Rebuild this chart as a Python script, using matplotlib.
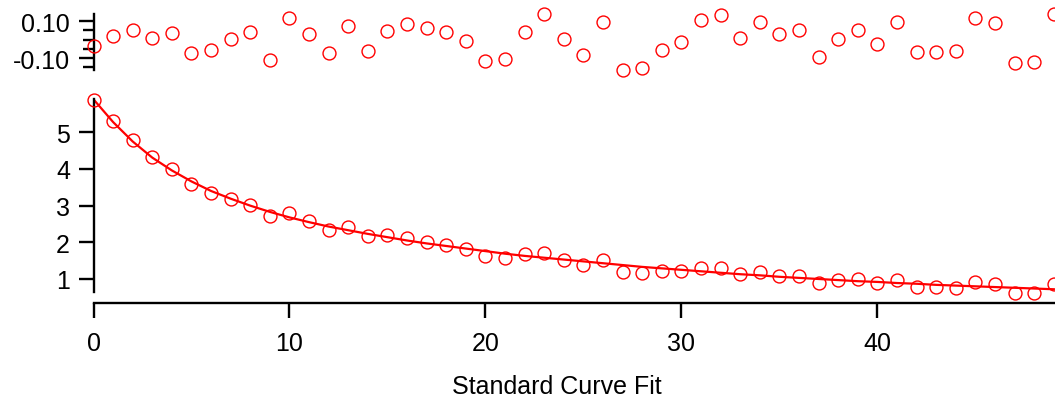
import matplotlib
matplotlib.use("Agg")
import matplotlib.pyplot as plt
from matplotlib.ticker import FixedLocator

plt.rcParams['font.family'] = ['Liberation Sans', 'DejaVu Sans']

x_vals = list(range(50))
data_vals = [5.89, 5.30, 4.79, 4.32, 3.99, 3.58, 3.34, 3.19, 3.02, 2.72,
             2.79, 2.57, 2.34, 2.41, 2.16, 2.19, 2.13, 2.02, 1.93, 1.82,
             1.64, 1.57, 1.67, 1.71, 1.53, 1.38, 1.53, 1.20, 1.16, 1.22,
             1.23, 1.31, 1.30, 1.13, 1.18, 1.09, 1.08, 0.89, 0.96, 1.00,
             0.89, 0.98, 0.79, 0.77, 0.76, 0.91, 0.86, 0.63, 0.61, 0.86]
fit_vals = [5.90, 5.28, 4.75, 4.31, 3.96, 3.66, 3.40, 3.19, 3.00, 2.83,
            2.68, 2.55, 2.43, 2.33, 2.23, 2.14, 2.05, 1.97, 1.90, 1.83,
            1.76, 1.69, 1.63, 1.58, 1.53, 1.48, 1.43, 1.38, 1.33, 1.29,
            1.25, 1.21, 1.17, 1.13, 1.10, 1.06, 1.03, 1.00, 0.97, 0.94,
            0.92, 0.89, 0.87, 0.84, 0.82, 0.80, 0.78, 0.76, 0.74, 0.72]
resid_vals = [-0.033, 0.021, 0.053, 0.008, 0.033, -0.073, -0.057, 0.004, 0.039, -0.111,
              0.115, 0.028, -0.075, 0.071, -0.064, 0.048, 0.084, 0.060, 0.039, -0.006,
              -0.115, -0.105, 0.039, 0.138, 0.003, -0.084, 0.096, -0.165, -0.154, -0.059,
              -0.014, 0.105, 0.134, 0.010, 0.093, 0.028, 0.050, -0.093, 0.003, 0.050,
              -0.026, 0.095, -0.069, -0.066, -0.061, 0.116, 0.089, -0.129, -0.122, 0.136]
x_ticks = [0, 10, 20, 30, 40]
y_ticks = [1, 2, 3, 4, 5]
resid_ticks = [0.10, -0.10]
resid_labels = ['0.10', '-0.10']
resid_minor = [0.05, 0.0, -0.05, -0.15]
title = 'Standard Curve Fit'

W, H = 1055, 402
fig = plt.figure(figsize=(W / 100, H / 100), dpi=100)

left = 93.5 / W
red = '#ff0000'
fs = 18
lw_ax = 1.7

# main panel
ax = fig.add_axes([left, 1 - 293.3 / H, 1 - left, (293.3 - 100) / H])
ax.plot(x_vals, fit_vals, color=red, lw=1.6, zorder=2)
ax.plot(x_vals, data_vals, 'o', mfc='none', mec=red, ms=9.3, mew=1.0,
        clip_on=False, zorder=3)
ax.set_xlim(0, 49.06)
ax.set_ylim(0.637, 5.909)
for s in ['top', 'right']:
    ax.spines[s].set_visible(False)
ax.spines['bottom'].set_position(('outward', 8))
ax.spines['left'].set_linewidth(lw_ax)
ax.spines['bottom'].set_linewidth(lw_ax)
ax.set_xticks(x_ticks)
ax.set_yticks(y_ticks)
ax.tick_params(axis='both', direction='out', length=11, width=lw_ax,
               labelsize=fs, color='black')
ax.tick_params(axis='x', pad=9)
ax.tick_params(axis='y', pad=6)

# residual panel
axr = fig.add_axes([left, 1 - 70.7 / H, 1 - left, (70.7 - 15) / H])
axr.plot(x_vals, resid_vals, 'o', mfc='none', mec=red, ms=9.3, mew=1.0,
         clip_on=False, zorder=3)
axr.set_xlim(0, 49.06)
axr.set_ylim(-0.163, 0.138)
for s in ['top', 'right', 'bottom']:
    axr.spines[s].set_visible(False)
axr.spines['left'].set_linewidth(lw_ax)
axr.set_xticks([])
axr.yaxis.set_major_locator(FixedLocator(resid_ticks))
axr.set_yticklabels(resid_labels)
axr.yaxis.set_minor_locator(FixedLocator(resid_minor))
axr.tick_params(axis='y', which='major', direction='out', length=11,
                width=lw_ax, labelsize=fs, pad=6)
axr.tick_params(axis='y', which='minor', direction='out', length=8,
                width=lw_ax)

fig.text(557 / W, 1 - 387 / H, title, ha='center', va='center', fontsize=fs)

fig.savefig('out.png', dpi=100)
